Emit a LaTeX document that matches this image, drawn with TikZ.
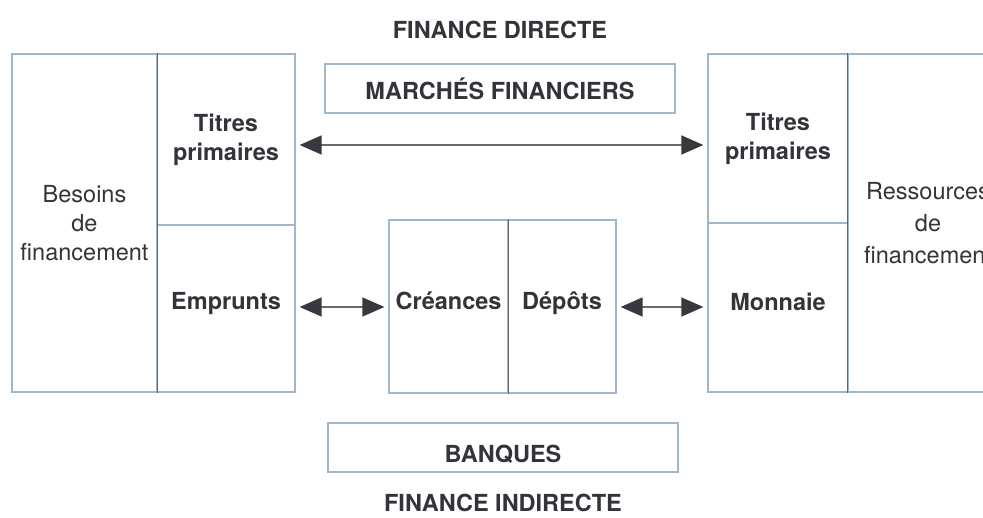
\documentclass[tikz,border=0pt]{standalone}
\usepackage{fontspec}
\setmainfont{TeX Gyre Heros}
\usetikzlibrary{arrows.meta}
\definecolor{boxline}{RGB}{160,182,205}
\definecolor{divline}{RGB}{95,100,110}
\definecolor{txt}{RGB}{50,52,58}
\definecolor{arr}{RGB}{55,57,62}
\tikzset{
  x=1pt, y=-1pt,
  box/.style={draw=boxline, line width=1.3pt, rectangle, inner sep=0pt, text=txt, align=center,
    font=\fontsize{23.5}{29}\selectfont},
  boldbox/.style={box, font=\fontsize{23.5}{29}\selectfont\bfseries},
  lowtext/.style={text height=#1, text depth=0pt},
  title/.style={text=txt, font=\fontsize{23.5}{29}\selectfont\bfseries, inner sep=0pt},
  dbl/.style={draw=arr!75, line width=1.4pt, {Triangle[length=22pt,width=19pt,color=arr,fill=arr]}-{Triangle[length=22pt,width=19pt,color=arr,fill=arr]}, shorten <=4pt, shorten >=4pt},
  divider/.style={draw=divline, line width=1.1pt}
}
\begin{document}
\begin{tikzpicture}
\useasboundingbox (0,0) rectangle (983,518);
% titles
\node[title] (fd) at (500,30) {FINANCE DIRECTE};
\node[title] (fi) at (503,503) {FINANCE INDIRECTE};
\node[boldbox, lowtext=23pt, minimum width=350, minimum height=49] (mf) at (500,88.5) {MARCHÉS FINANCIERS};
\node[boldbox, lowtext=31pt, minimum width=350, minimum height=49] (bq) at (503,447.5) {BANQUES};
% left block
\node[box, minimum width=145, minimum height=338] (bes) at (84.5,223) {Besoins\\de\\financement};
\node[boldbox, minimum width=138, minimum height=171] (ltp) at (226,139.5) {Titres\\primaires};
\node[boldbox, lowtext=3pt, minimum width=138, minimum height=167] (emp) at (226,308.5) {Emprunts};
% middle block
\node[boldbox, lowtext=7pt, minimum width=119, minimum height=173] (cre) at (448.5,306.5) {Créances};
\node[boldbox, lowtext=7pt, minimum width=108, minimum height=173] (dep) at (562,306.5) {Dépôts};
% right block
\node[boldbox, minimum width=140, minimum height=169] (rtp) at (778,138.5) {Titres\\primaires};
\node[boldbox, lowtext=7pt, minimum width=140, minimum height=169] (mon) at (778,307.5) {Monnaie};
\node[box, minimum width=160, minimum height=338, font=\fontsize{23.5}{32}\selectfont] (res) at (928,223) {Ressources\\de\\financement};
% dividers
\draw[divider] (bes.north east) -- (bes.south east);
\draw[divider] (cre.north east) -- (cre.south east);
\draw[divider] (res.north west) -- (res.south west);
% arrows
\draw[dbl] (ltp.east |- 0,145) -- (rtp.west |- 0,145);
\draw[dbl] (emp.east |- 0,307) -- (cre.west |- 0,307);
\draw[dbl] (dep.east |- 0,307) -- (mon.west |- 0,307);
\end{tikzpicture}
\end{document}
